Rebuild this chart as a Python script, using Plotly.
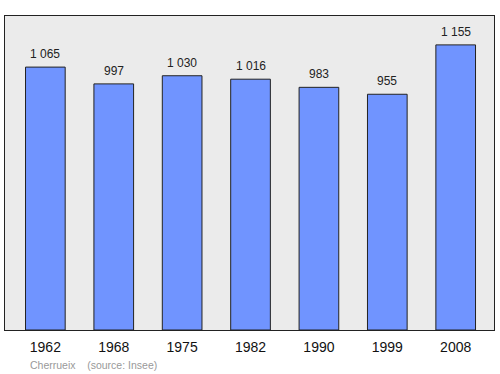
import plotly.graph_objects as go

years = ["1962", "1968", "1975", "1982", "1990", "1999", "2008"]
population = [1065, 997, 1030, 1016, 983, 955, 1155]
labels = ["1 065", "997", "1 030", "1 016", "983", "955", "1 155"]
footer = "Cherrueix    (source: Insee)"

fig = go.Figure()
fig.add_trace(go.Bar(
    x=years, y=population,
    width=0.58,
    marker=dict(color="#7094ff", line=dict(color="#222222", width=1)),
    hoverinfo="skip",
))

for i, (v, lab) in enumerate(zip(population, labels)):
    fig.add_annotation(x=i, y=v, xref="x", yref="y", text=lab, showarrow=False,
                       yanchor="bottom", yshift=4,
                       font=dict(family="Liberation Sans, Arial", size=12, color="#222222"))

fig.add_annotation(xref="paper", yref="paper", x=0, y=0, xshift=23, yshift=-35,
                   xanchor="left", yanchor="middle", text=footer, showarrow=False,
                   font=dict(family="Liberation Sans, Arial", size=10.5, color="#999999"))

fig.update_layout(
    width=500, height=374,
    margin=dict(l=5, r=6, t=16, b=44),
    paper_bgcolor="white", plot_bgcolor="#ebebeb",
    showlegend=False,
    xaxis=dict(type="category", range=[-0.59, 6.56], showgrid=False, zeroline=False,
               showline=True, linecolor="#222222", linewidth=1.3, mirror=True,
               ticks="outside", ticklen=4, tickcolor="rgba(0,0,0,0)",
               tickfont=dict(family="Liberation Sans, Arial", size=14, color="#111111")),
    yaxis=dict(range=[0, 1272], showgrid=False, zeroline=False,
               showline=True, linecolor="#222222", linewidth=1.3, mirror=True,
               showticklabels=False, ticks=""),
)

fig.write_html("out.html")
